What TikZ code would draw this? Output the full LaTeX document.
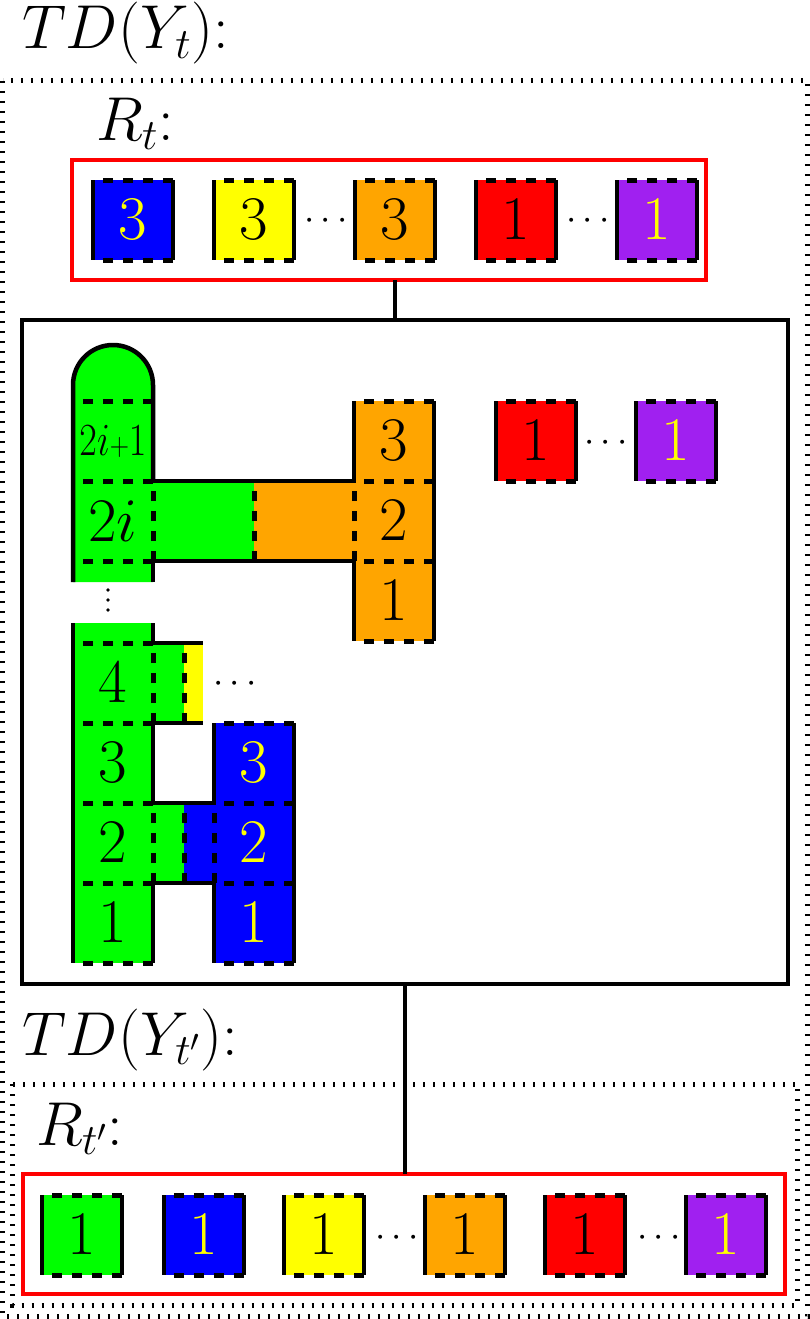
\documentclass[tikz,border=0pt]{standalone}
\DeclareFontShape{OML}{cmm}{m}{it}{<->cmmi12}{}
\DeclareFontShape{OT1}{cmr}{m}{n}{<->cmr17}{}
\DeclareFontShape{OMS}{cmsy}{m}{n}{<->cmsy10}{}
\DeclareFontShape{OMX}{cmex}{m}{n}{<->cmex10}{}
\definecolor{cgreen}{RGB}{0,255,0}
\definecolor{cblue}{RGB}{0,0,255}
\definecolor{cyellow}{RGB}{255,255,0}
\definecolor{corange}{RGB}{255,165,0}
\definecolor{cred}{RGB}{255,0,0}
\definecolor{cpurple}{RGB}{160,32,240}
\tikzset{
 big/.style={font=\fontsize{62}{70}\selectfont},
 lbl/.style={big, inner sep=0pt, outer sep=0pt, anchor=base west},
 tile/.style={big, minimum width=80pt, minimum height=80pt, inner sep=0pt, outer sep=0pt},
 cell/.style={big, inner sep=0pt, outer sep=0pt},
 sline/.style={line width=4.5pt, black},
 dline/.style={line width=5pt, black, dash pattern=on 10pt off 10pt},
 dotframe/.style={line width=5pt, black, dash pattern=on 2pt off 8pt},
 redframe/.style={draw=cred, line width=4pt, inner sep=0pt, outer sep=0pt},
 mainframe/.style={draw=black, line width=4pt, inner sep=0pt, outer sep=0pt},
 conn/.style={line width=4pt, black},
 dots/.style={font=\fontsize{37}{40}\selectfont, inner sep=0pt, outer sep=0pt, anchor=base},
}
\newcommand\mytile[5]{%
 \node[tile, fill=#3, text=#4] (#1) at (#2) {$#5$};
 \draw[sline] (#1.north west) -- (#1.south west) (#1.north east) -- (#1.south east);
 \draw[dline] (#1.north east) -- (#1.north west);
 \draw[dline] (#1.south east) -- (#1.south west);}
\begin{document}
\begin{tikzpicture}[x=1pt, y=-1pt]
\useasboundingbox (0,0) rectangle (810,1319);
% dotted frames
\draw[dotframe] (2.5,81) rectangle (807.5,1316);
\draw[dotframe] (12.5,1084) rectangle (797.5,1305);
% labels
\node[lbl] (tdt) at (22,49) {$TD(Y_t)$:};
\node[lbl] (rt) at (96,140) {$R_t$:};
\node[lbl] (tdt2) at (22,1055) {$TD(Y_{t'})$:};
\node[lbl] (rt2) at (36,1145) {$R_{t'}$:};
% frames
\node[redframe, minimum width=634pt, minimum height=120pt] (Rt) at (389,220) {};
\node[mainframe, minimum width=766pt, minimum height=664pt] (main) at (405,652) {};
\node[redframe, minimum width=762pt, minimum height=120pt] (Rt2) at (404,1234) {};
\coordinate (k1) at (395,0);
\coordinate (k2) at (405,0);
\draw[conn] (Rt.south -| k1) -- (main.north -| k1);
\draw[conn] (main.south -| k2) -- (Rt2.north -| k2);
% R_t tiles
\mytile{ta}{133,220}{cblue}{cyellow}{3}
\mytile{tb}{254,220}{cyellow}{black}{3}
\node[dots] (tdots1) at (326,229.5) {$\cdots$};
\mytile{tc}{395,220}{corange}{black}{3}
\mytile{td}{516,220}{cred}{black}{1}
\node[dots] (tdots2) at (588,229.5) {$\cdots$};
\mytile{te}{657,220}{cpurple}{cyellow}{1}
% R_t' tiles
\mytile{ba}{82,1235}{cgreen}{black}{1}
\mytile{bb}{204,1235}{cblue}{cyellow}{1}
\mytile{bc}{324,1235}{cyellow}{black}{1}
\node[dots] (bdots1) at (397,1246.5) {$\cdots$};
\mytile{bd}{465,1235}{corange}{black}{1}
\mytile{be}{585,1235}{cred}{black}{1}
\node[dots] (bdots2) at (659,1246.5) {$\cdots$};
\mytile{bf}{726,1235}{cpurple}{cyellow}{1}
% main: red and purple tiles
\mytile{ma}{536,441}{cred}{black}{1}
\node[dots] (mdots1) at (606,451) {$\cdots$};
\mytile{mb}{676,441}{cpurple}{cyellow}{1}
% fills
\fill[cgreen] (73,582) -- (73,385) arc (180:0:40pt) -- (153,582) -- cycle;
\fill[cgreen] (73,623) rectangle (153,963);
\fill[cgreen] (153,481) rectangle (254,561);
\fill[corange] (254,481) rectangle (354,561);
\fill[corange] (354,401) rectangle (434,641);
\fill[cgreen] (153,643) rectangle (184,723);
\fill[cyellow] (184,643) rectangle (203,723);
\fill[cgreen] (153,803) rectangle (184,883);
\fill[cblue] (184,803) rectangle (214,883);
\fill[cblue] (214,723) rectangle (294,963);
% labels in cells
\node[cell] (c2i1) at (113,441) {\fontsize{46}{50}\selectfont\scalebox{0.83}[1]{$2i{\scriptstyle+}1$}};
\node[cell] (c2i) at (113,521) {$2i$};
\node[cell] (c4) at (113,683) {$4$};
\node[cell] (c3) at (113,763) {$3$};
\node[cell] (c2) at (113,843) {$2$};
\node[cell] (c1) at (113,923) {$1$};
\node[cell] (o3) at (394,441) {$3$};
\node[cell] (o2) at (394,521) {$2$};
\node[cell] (o1) at (394,601) {$1$};
\node[cell, text=cyellow] (b3) at (254,763) {$3$};
\node[cell, text=cyellow] (b2) at (254,843) {$2$};
\node[cell, text=cyellow] (b1) at (254,923) {$1$};
\node[dots] (ydots) at (235,692) {$\cdots$};
\foreach \yy in {590,600,610} {\fill (108,\yy) circle (1.9pt);}
% green upper lines
\draw[sline] (73,582) -- (73,385) arc (180:0:40pt) -- (153,481);
\draw[sline] (153,561) -- (153,582);
\draw[dline] (153,561) -- (153,481);
\draw[dline] (153,401) -- (73,401);
\draw[dline] (153,481) -- (73,481);
\draw[dline] (153,561) -- (73,561);
% connector row 2i
\draw[sline] (354,401) -- (354,481) -- (153,481);
\draw[sline] (153,561) -- (354,561) -- (354,641);
\draw[dline] (254,561) -- (254,481);
\draw[dline] (354,561) -- (354,481);
% orange column
\draw[sline] (434,401) -- (434,641);
\draw[dline] (434,401) -- (354,401);
\draw[dline] (434,481) -- (354,481);
\draw[dline] (434,561) -- (354,561);
\draw[dline] (434,641) -- (354,641);
% green lower
\draw[sline] (73,623) -- (73,963);
\draw[sline] (153,623) -- (153,643);
\draw[dline] (153,723) -- (153,643);
\draw[sline] (153,723) -- (153,803);
\draw[dline] (153,883) -- (153,803);
\draw[sline] (153,883) -- (153,963);
\foreach \yy in {643,723,803,883,963} {\draw[dline] (153,\yy) -- (73,\yy);}
% cell 4 connector
\draw[sline] (153,643) -- (203,643);
\draw[sline] (153,723) -- (203,723);
\draw[dline] (184,723) -- (184,643);
% cell 2 connector
\draw[sline] (153,803) -- (214,803) -- (214,723);
\draw[sline] (153,883) -- (214,883) -- (214,963);
\draw[dline] (184,883) -- (184,803);
\draw[dline] (214,883) -- (214,803);
% blue column
\draw[sline] (294,723) -- (294,963);
\foreach \yy in {723,803,883,963} {\draw[dline] (294,\yy) -- (214,\yy);}
\end{tikzpicture}
\end{document}
